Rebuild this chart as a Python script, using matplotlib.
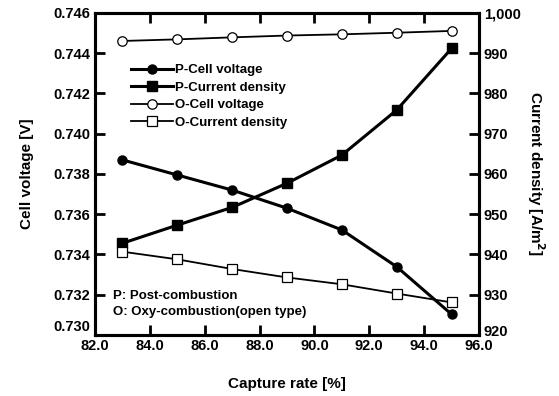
import matplotlib.pyplot as plt
from matplotlib.ticker import FuncFormatter
from matplotlib.transforms import ScaledTranslation

plt.rcParams['font.family'] = ['Liberation Sans', 'DejaVu Sans']
plt.rcParams['font.weight'] = 'bold'

capture = [83, 85, 87, 89, 91, 93, 95]
p_voltage = [0.73870, 0.73795, 0.73720, 0.73630, 0.73522, 0.73339, 0.73103]
p_current = [942.8, 947.3, 951.7, 957.7, 964.7, 975.9, 991.2]
o_voltage = [0.74461, 0.74469, 0.74479, 0.74488, 0.74494, 0.74502, 0.74511]
o_current = [940.7, 938.8, 936.4, 934.3, 932.6, 930.3, 928.1]

fig = plt.figure(figsize=(5.59, 3.96), dpi=100)
ax = fig.add_axes([95/559, 1 - 335/396, (479-95)/559, (335-13)/396])
ax2 = ax.twinx()

l1, = ax.plot(capture, p_voltage, 'o-', color='black', lw=2.2, ms=6.5, label='P-Cell voltage')
l2, = ax2.plot(capture, p_current, 's-', color='black', lw=2.2, ms=6.5, label='P-Current density')
l3, = ax.plot(capture, o_voltage, 'o-', color='black', mfc='white', lw=1.3, ms=6.8, mew=0.9, label='O-Cell voltage')
l4, = ax2.plot(capture, o_current, 's-', color='black', mfc='white', lw=1.3, ms=6.8, mew=0.9, label='O-Current density')

ax.set_xlim(82, 96)
ax.set_ylim(0.730, 0.746)
ax2.set_ylim(920, 1000)
ax.set_xticks([82, 84, 86, 88, 90, 92, 94, 96])
ax.set_yticks([0.730, 0.732, 0.734, 0.736, 0.738, 0.740, 0.742, 0.744, 0.746])
ax2.set_yticks(range(920, 1001, 10))
ax.xaxis.set_major_formatter(FuncFormatter(lambda v, p: f"{v:.1f}"))
ax.yaxis.set_major_formatter(FuncFormatter(lambda v, p: f"{v:.3f}"))
ax2.yaxis.set_major_formatter(FuncFormatter(lambda v, p: f"{int(v):,}"))

ax.tick_params(axis='x', direction='in', top=True, length=7, width=2, labelsize=10.5, pad=3)
ax.tick_params(axis='y', direction='in', length=7, width=2, labelsize=10.5)
ax2.tick_params(axis='y', direction='in', length=7, width=2, labelsize=10.5)
for a in (ax, ax2):
    for s in a.spines.values():
        s.set_linewidth(2.2)

# lowest labels sit a bit above their ticks in the original
lab = ax.yaxis.get_major_ticks()[0].label1
lab.set_transform(lab.get_transform() + ScaledTranslation(0, 0.09, fig.dpi_scale_trans))
lab2 = ax2.yaxis.get_major_ticks()[0].label2
lab2.set_transform(lab2.get_transform() + ScaledTranslation(0, 0.04, fig.dpi_scale_trans))

ax.set_xlabel('Capture rate [%]', fontsize=11, fontweight='bold', labelpad=17)
ax.set_ylabel('Cell voltage [V]', fontsize=11, fontweight='bold', labelpad=14)
ax2.set_ylabel('Current density [A/m$^2$]', fontsize=11, fontweight='bold',
               rotation=270, labelpad=19)

ax.legend(handles=[l1, l2, l3, l4], loc='upper left', bbox_to_anchor=(0.08, 0.858),
          frameon=False, fontsize=9.5, handlelength=3.2, handletextpad=0.1,
          labelspacing=0.4, borderaxespad=0)

ax.text(0.047, 0.112, 'P: Post-combustion', transform=ax.transAxes, fontsize=9.5, fontweight='bold')
ax.text(0.047, 0.062, 'O: Oxy-combustion(open type)', transform=ax.transAxes, fontsize=9.5, fontweight='bold')

fig.savefig('out.png', dpi=100)
